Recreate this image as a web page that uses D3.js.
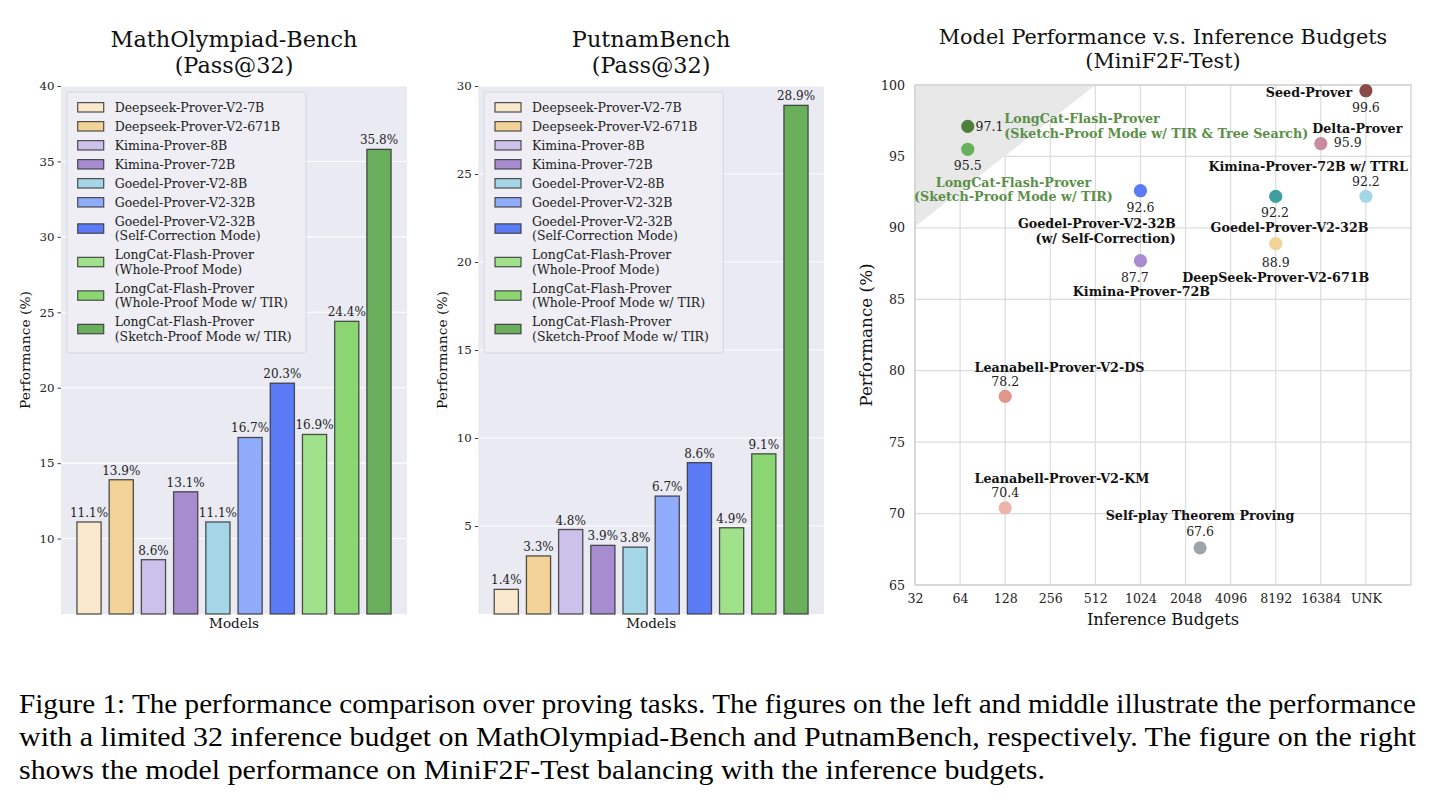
<!DOCTYPE html>
<html lang="en">
<head>
<meta charset="UTF-8">
<title>Proving benchmarks</title>
<script src="https://cdn.jsdelivr.net/npm/d3@7"></script>
<style>
  body { margin: 0; background: #fff; }
  svg text { font-family: "DejaVu Serif", serif; }
</style>
</head>
<body>
<svg id="fig" width="1436" height="802"></svg>
<script>
// ---- data ----
var models = [
    ["Deepseek-Prover-V2-7B"],
    ["Deepseek-Prover-V2-671B"],
    ["Kimina-Prover-8B"],
    ["Kimina-Prover-72B"],
    ["Goedel-Prover-V2-8B"],
    ["Goedel-Prover-V2-32B"],
    ["Goedel-Prover-V2-32B", "(Self-Correction Mode)"],
    ["LongCat-Flash-Prover", "(Whole-Proof Mode)"],
    ["LongCat-Flash-Prover", "(Whole-Proof Mode w/ TIR)"],
    ["LongCat-Flash-Prover", "(Sketch-Proof Mode w/ TIR)"]
];
var modelColors = ["#f9e8cc", "#f2d296", "#cbc1ea", "#a78dd0", "#a4d6e8",
                   "#8fabf9", "#5b7bf6", "#a0e28c", "#8bd672", "#6aaf5c"];
var mathOlympiad = [11.1, 13.9, 8.6, 13.1, 11.1, 16.7, 20.3, 16.9, 24.4, 35.8];
var putnam = [1.4, 3.3, 4.8, 3.9, 3.8, 6.7, 8.6, 4.9, 9.1, 28.9];

var budgetTicks = [32, 64, 128, 256, 512, 1024, 2048, 4096, 8192, 16384, 32768];
var budgetLabels = ["32", "64", "128", "256", "512", "1024", "2048", "4096", "8192", "16384", "UNK"];
var scoreTicks = [65, 70, 75, 80, 85, 90, 95, 100];

var provers = [
    ["LongCat-Flash-Prover", "(Sketch-Proof Mode w/ TIR & Tree Search)"],
    ["LongCat-Flash-Prover", "(Sketch-Proof Mode w/ TIR)"],
    ["Goedel-Prover-V2-32B", "(w/ Self-Correction)"],
    ["Kimina-Prover-72B"],
    ["Goedel-Prover-V2-32B"],
    ["DeepSeek-Prover-V2-671B"],
    ["Seed-Prover"],
    ["Delta-Prover"],
    ["Kimina-Prover-72B w/ TTRL"],
    ["Leanabell-Prover-V2-DS"],
    ["Leanabell-Prover-V2-KM"],
    ["Self-play Theorem Proving"]
];
var proverBudgets = [72, 72, 1024, 1024, 8192, 8192, 32768, 16384, 32768, 128, 128, 2560];
var proverScores = [97.1, 95.5, 92.6, 87.7, 92.2, 88.9, 99.6, 95.9, 92.2, 78.2, 70.4, 67.6];
var proverColors = ["#4f7f3c", "#6aaf5c", "#5b7bf6", "#a78dd0", "#3f9fa0", "#f2d296",
                    "#8b4a4a", "#c98ba0", "#a4d6e8", "#e0968a", "#edb5aa", "#9ea4aa"];

// label placement around each point: [name anchor, dx, dy, value anchor, dx, dy]
var labelPlace = [
    ["start", 36.5, -7.8, "start", 7.8, 0],
    ["middle", 45.7, 33.3, "middle", 0, 16.3],
    ["end", 35.4, 33.2, "middle", 0, 16.5],
    ["middle", 1, 30.8, "middle", -5.6, 16.4],
    ["middle", 13.8, 31.2, "middle", -0.7, 15.8],
    ["middle", 0, 33.6, "middle", 0, 18.6],
    ["end", -13.8, 1.6, "middle", 0, 16.6],
    ["middle", 36.5, -15.3, "start", 13, -0.9],
    ["end", 42.1, -29.5, "middle", 0, -14.8],
    ["start", -30.6, -29.1, "middle", 0, -14.7],
    ["start", -30.6, -29.7, "middle", 0, -15.3],
    ["middle", 0, -32.7, "middle", 0, -16.7]
];

var svg = d3.select("#fig");
svg.append("rect").attr("width", 1436).attr("height", 802).attr("fill", "#fff");

function title(cx, y, lines, size, lead) {
    var t = svg.append("text")
        .attr("text-anchor", "middle")
        .attr("font-size", size)
        .attr("fill", "#111");
    lines.forEach(function (s, i) {
        t.append("tspan").attr("x", cx).attr("y", y + i * lead).text(s);
    });
}

// ---- bar panels ----
function barPanel(x0, x1, values, yMin, yMax, yTicks, name) {
    var top = 86, bottom = 614;
    var x = d3.scaleLinear().domain([-0.87, 9.87]).range([x0, x1]);
    var y = d3.scaleLinear().domain([yMin, yMax]).range([bottom, top]);
    var g = svg.append("g");

    g.append("rect")
        .attr("x", x0).attr("y", top)
        .attr("width", x1 - x0).attr("height", bottom - top)
        .attr("fill", "#eaeaf2");

    g.selectAll(".grid").data(yTicks).enter().append("line")
        .attr("x1", x0).attr("x2", x1)
        .attr("y1", function (d) { return y(d); })
        .attr("y2", function (d) { return y(d); })
        .attr("stroke", "#fff").attr("stroke-width", 1.1);

    var yAxis = g.append("g")
        .attr("transform", "translate(" + x0 + ",0)")
        .call(d3.axisLeft(y).tickValues(yTicks).tickSize(3.5).tickPadding(3));
    yAxis.select(".domain").remove();
    yAxis.selectAll(".tick line").attr("stroke", "#444");
    yAxis.selectAll(".tick text")
        .attr("font-size", 11.8).attr("fill", "#222")
        .attr("font-family", "DejaVu Serif");

    g.selectAll(".bar").data(values).enter().append("rect")
        .attr("x", function (d, i) { return x(i - 0.375); })
        .attr("width", x(0.75) - x(0))
        .attr("y", function (d) { return y(d); })
        .attr("height", function (d) { return bottom - y(d); })
        .attr("fill", function (d, i) { return modelColors[i]; })
        .attr("stroke", "#333").attr("stroke-opacity", 0.85)
        .attr("stroke-width", 1.3);

    g.selectAll(".val").data(values).enter().append("text")
        .attr("x", function (d, i) { return x(i); })
        .attr("y", function (d) { return y(d) - 5; })
        .attr("text-anchor", "middle")
        .attr("font-size", 12).attr("fill", "#222")
        .text(function (d) { return d.toFixed(1) + "%"; });

    // legend
    var lx = x0 + 6, ly = 92, lw = 239, lh = 261;
    var lg = g.append("g");
    lg.append("rect")
        .attr("x", lx).attr("y", ly).attr("width", lw).attr("height", lh)
        .attr("rx", 2)
        .attr("fill", "#eeeef4").attr("stroke", "#d6d6de");
    var cy = 107.3;
    models.forEach(function (m, i) {
        if (i > 0) cy += (m.length > 1 ? 33.5 : 19) / 2 + (models[i - 1].length > 1 ? 33.5 : 19) / 2;
        lg.append("rect")
            .attr("x", lx + 10.7).attr("y", cy - 4.7)
            .attr("width", 26).attr("height", 9.4)
            .attr("fill", modelColors[i])
            .attr("stroke", "#333").attr("stroke-opacity", 0.85).attr("stroke-width", 1.2);
        var t = lg.append("text")
            .attr("font-size", 12.5).attr("fill", "#222");
        m.forEach(function (s, j) {
            t.append("tspan")
                .attr("x", lx + 47.7)
                .attr("y", cy + 4.5 + (j - (m.length - 1) / 2) * 14.3)
                .text(s);
        });
    });

    g.append("text")
        .attr("x", (x0 + x1) / 2).attr("y", 628)
        .attr("text-anchor", "middle")
        .attr("font-size", 13.5).attr("fill", "#111")
        .text("Models");
    g.append("text")
        .attr("transform", "translate(" + (x0 - 31) + "," + ((top + bottom) / 2) + ") rotate(-90)")
        .attr("text-anchor", "middle")
        .attr("font-size", 13.8).attr("fill", "#111")
        .text("Performance (%)");

    title((x0 + x1) / 2, 47, name, 22.4, 26);
}

barPanel(61, 407, mathOlympiad, 5, 40, [10, 15, 20, 25, 30, 35, 40], ["MathOlympiad-Bench", "(Pass@32)"]);
barPanel(478.3, 824, putnam, 0, 30, [5, 10, 15, 20, 25, 30], ["PutnamBench", "(Pass@32)"]);

// ---- scatter panel ----
(function () {
    var x0 = 915, x1 = 1411, top = 85, bottom = 585;
    var x = d3.scaleLog().base(2).domain([32, 65536]).range([x0, x1]);
    var y = d3.scaleLinear().domain([65, 100]).range([bottom, top]);
    var g = svg.append("g");

    g.selectAll(".vg").data(budgetTicks).enter().append("line")
        .attr("x1", function (d) { return x(d); }).attr("x2", function (d) { return x(d); })
        .attr("y1", top).attr("y2", bottom)
        .attr("stroke", "#dcdcdc").attr("stroke-width", 1.2);
    g.selectAll(".hg").data(scoreTicks).enter().append("line")
        .attr("x1", x0).attr("x2", x1)
        .attr("y1", function (d) { return y(d); }).attr("y2", function (d) { return y(d); })
        .attr("stroke", "#dcdcdc").attr("stroke-width", 1.2);

    // shaded corner
    g.append("path")
        .attr("d", "M" + x(32) + "," + y(100) + "L" + x(512) + "," + y(100) + "L" + x(32) + "," + y(90.1) + "Z")
        .attr("fill", "#e8e8e8");

    g.append("rect")
        .attr("x", x0).attr("y", top).attr("width", x1 - x0).attr("height", bottom - top)
        .attr("fill", "none").attr("stroke", "#cfcfcf").attr("stroke-width", 1.3);

    var xAxis = g.append("g")
        .attr("transform", "translate(0," + bottom + ")")
        .call(d3.axisBottom(x).tickValues(budgetTicks).tickSize(0).tickPadding(9)
            .tickFormat(function (d, i) { return budgetLabels[i]; }));
    xAxis.select(".domain").remove();
    xAxis.selectAll("text").attr("font-size", 12.6).attr("fill", "#222").attr("font-family", "DejaVu Serif");

    var yAxis = g.append("g")
        .attr("transform", "translate(" + x0 + ",0)")
        .call(d3.axisLeft(y).tickValues(scoreTicks).tickSize(0).tickPadding(10));
    yAxis.select(".domain").remove();
    yAxis.selectAll("text").attr("font-size", 12.6).attr("fill", "#222").attr("font-family", "DejaVu Serif");

    g.selectAll(".pt").data(proverScores).enter().append("circle")
        .attr("cx", function (d, i) { return x(proverBudgets[i]); })
        .attr("cy", function (d) { return y(d); })
        .attr("r", 6.6)
        .attr("fill", function (d, i) { return proverColors[i]; });

    proverScores.forEach(function (s, i) {
        var px = x(proverBudgets[i]), py = y(s), p = labelPlace[i];
        var green = i < 2;
        var t = g.append("text")
            .attr("text-anchor", p[0])
            .attr("font-size", 12.7)
            .attr("font-weight", "bold")
            .attr("fill", green ? "#5a8f48" : "#111");
        provers[i].forEach(function (line, j) {
            t.append("tspan")
                .attr("x", px + p[1])
                .attr("y", py + p[2] + j * 14.4 + 4.5)
                .text(line);
        });
        g.append("text")
            .attr("x", px + p[4]).attr("y", py + p[5] + 4.4)
            .attr("text-anchor", p[3])
            .attr("font-size", 12.5).attr("fill", "#222")
            .text(s.toFixed(1));
    });

    g.append("text")
        .attr("x", (x0 + x1) / 2).attr("y", 625)
        .attr("text-anchor", "middle")
        .attr("font-size", 16.3).attr("fill", "#111")
        .text("Inference Budgets");
    g.append("text")
        .attr("transform", "translate(" + 872 + "," + ((top + bottom) / 2) + ") rotate(-90)")
        .attr("text-anchor", "middle")
        .attr("font-size", 16.8).attr("fill", "#111")
        .text("Performance (%)");

    title((x0 + x1) / 2, 44, ["Model Performance v.s. Inference Budgets", "(MiniF2F-Test)"], 20.8, 23.5);
})();

// ---- caption ----
var caption = [
    "Figure 1: The performance comparison over proving tasks. The figures on the left and middle illustrate the performance",
    "with a limited 32 inference budget on MathOlympiad-Bench and PutnamBench, respectively. The figure on the right",
    "shows the model performance on MiniF2F-Test balancing with the inference budgets."
];
var captionWidths = [1397, 1397, 1026];
caption.forEach(function (s, i) {
    svg.append("text")
        .attr("x", 19).attr("y", 713 + i * 33)
        .style("font-family", "'Liberation Serif', 'Times New Roman', Times, serif")
        .style("font-size", "27.5px")
        .attr("fill", "#000")
        .attr("textLength", captionWidths[i])
        .attr("lengthAdjust", "spacingAndGlyphs")
        .text(s);
});
</script>
</body>
</html>
